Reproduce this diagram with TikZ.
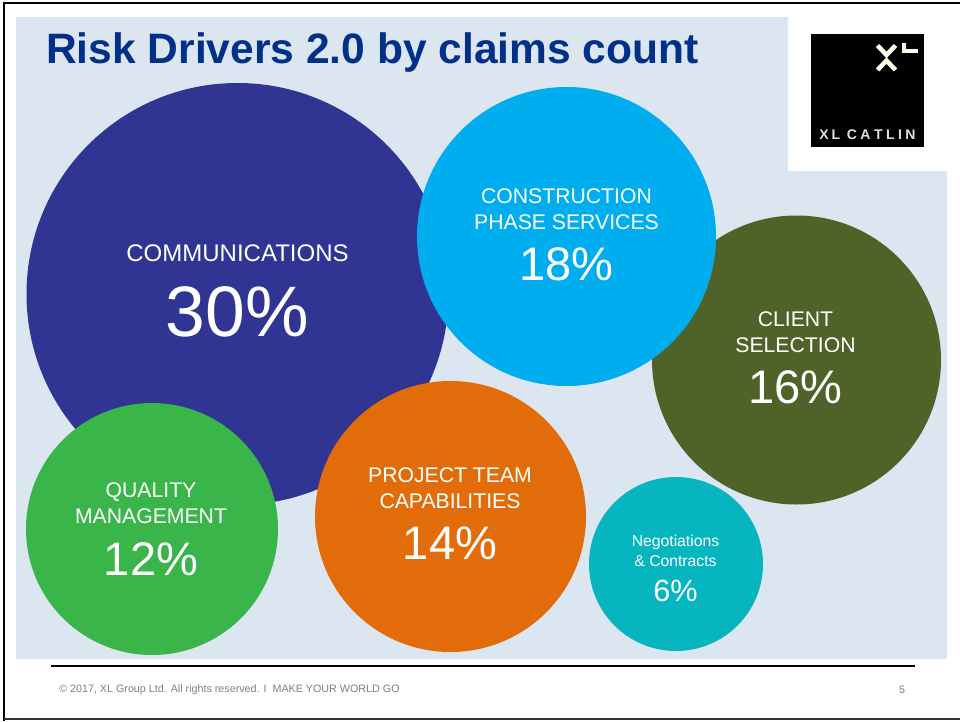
\documentclass[tikz,border=0pt]{standalone}
\usepackage{fontspec}
\setmainfont{Liberation Sans}
\definecolor{bgblue}{HTML}{DCE6F1}
\definecolor{titleblue}{HTML}{003087}
\definecolor{ccomm}{HTML}{303593}
\definecolor{cconstr}{HTML}{00AEEF}
\definecolor{cclient}{HTML}{4F6228}
\definecolor{cquality}{HTML}{39B54A}
\definecolor{cproject}{HTML}{E36C0A}
\definecolor{cnego}{HTML}{05B5BF}
\definecolor{footgray}{HTML}{7F7F7F}
\tikzset{
  x=0.75pt,y=-0.75pt,
  bubble/.style={circle,inner sep=0pt,outer sep=0pt,minimum size=#1*0.75pt},
  lab/.style={text=white,align=center,inner sep=0pt},
  foot/.style={text=footgray,anchor=west,inner sep=0pt,font=\fontsize{8.05pt}{9pt}\selectfont},
}
\newcommand{\lbl}[2]{\fontsize{#1pt}{#2pt}\selectfont}
\begin{document}
\begin{tikzpicture}
\useasboundingbox (0,0) rectangle (960,721);
\fill[white] (0,0) rectangle (960,721);
% background panel
\fill[bgblue] (16,17) -- (788,17) -- (788,171) -- (947,171) -- (947,659) -- (16,659) -- cycle;
% slide frame
\draw[black,line width=1.7pt] (4,721) -- (4,3) -- (960,3);
\draw[black!80,line width=1.7pt] (4,719) -- (960,719);
% title
\node[anchor=west,inner sep=0pt,text=titleblue,font=\bfseries\fontsize{31.9pt}{36pt}\selectfont] (title) at (46,53) {Risk Drivers 2.0 by claims count};
% logo
\node[fill=black,minimum width=84.75pt,minimum height=84.75pt,inner sep=0pt,anchor=north west] (logo) at (811,34) {};
\draw[white!90!yellow,line width=3.4pt] (877.5,45.5) -- (886.5,55) -- (895.5,45.5) (877.5,70) -- (886.5,60.5) -- (895.5,70);
\draw[white!90!yellow,line width=3pt] (904,43) -- (904,50.5) -- (918,50.5);
\node[text=white!88!black,inner sep=0pt,font=\bfseries\fontsize{10.5pt}{12pt}\selectfont] (logotext) at (867.5,135) {X\kern2.2ptL\kern5pt C\kern2.6ptA\kern2.6ptT\kern2.6ptL\kern2.6ptI\kern2.6ptN};
% bubbles
\node[bubble=422,fill=ccomm] (comm) at (237.5,294) {};
\node[bubble=289,fill=cclient] (client) at (796.5,360) {};
\node[bubble=299,fill=cconstr] (constr) at (566.5,236.5) {};
\node[bubble=252,fill=cquality] (quality) at (152,529) {};
\node[bubble=271,fill=cproject] (project) at (450.5,516.5) {};
\node[bubble=174,fill=cnego] (nego) at (676,564) {};
% labels
\node[lab,font=\lbl{18}{20}] (t1) at (237.5,253) {COMMUNICATIONS};
\node[lab,font=\lbl{53.6}{60}] (p1) at (237.5,312) {30\%};
\node[lab,font=\lbl{15.9}{19.5}] (t2) at (566.5,209) {CONSTRUCTION\\PHASE SERVICES};
\node[lab,font=\lbl{35.3}{42}] (p2) at (566.5,264) {18\%};
\node[lab,font=\lbl{15.9}{19.5}] (t3) at (795.5,332) {CLIENT\\SELECTION};
\node[lab,font=\lbl{35.3}{42}] (p3) at (795.5,387) {16\%};
\node[lab,font=\lbl{15.9}{19.5}] (t4) at (151,503) {QUALITY\\MANAGEMENT};
\node[lab,font=\lbl{35.3}{42}] (p4) at (151,559) {12\%};
\node[lab,font=\lbl{15.9}{19.5}] (t5) at (450,488) {PROJECT TEAM\\CAPABILITIES};
\node[lab,font=\lbl{35.3}{42}] (p5) at (450,543) {14\%};
\node[lab,font=\lbl{11.8}{14.5}] (t6) at (675.5,551) {Negotiations\\\&\ Contracts};
\node[lab,font=\lbl{23}{27}] (p6) at (675.5,591) {6\%};
% footer
\draw[black,line width=1.7pt] (51,666) -- (915,666);
\node[foot] (foot) at (59,689.5) {© 2017, XL Group Ltd. All rights reserved. I\ \ MAKE YOUR WORLD GO};
\node[foot,anchor=center] (page) at (902,689.5) {5};
\end{tikzpicture}
\end{document}
